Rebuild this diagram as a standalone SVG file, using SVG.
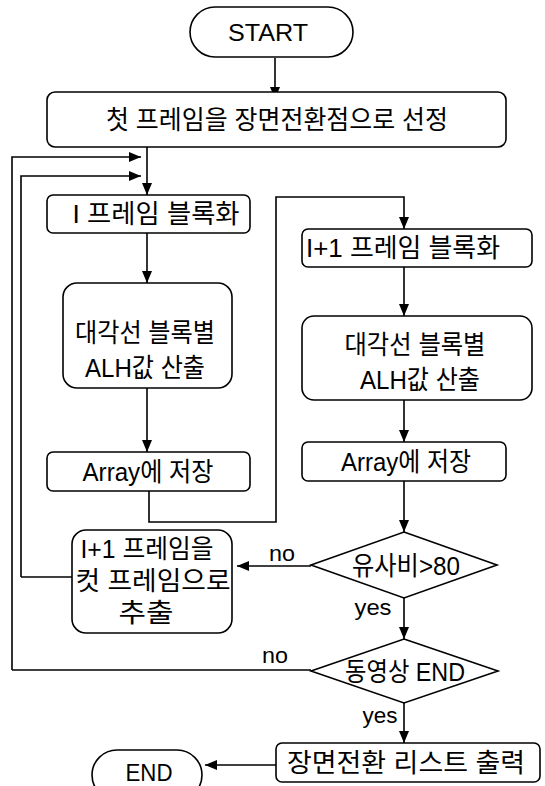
<svg xmlns="http://www.w3.org/2000/svg" width="545" height="786" viewBox="0 0 545 786">
<defs>
<marker id="ah" markerUnits="userSpaceOnUse" markerWidth="12" markerHeight="10" refX="12" refY="5" orient="auto">
<path d="M0,0 L12,5 L0,10 z" fill="#000"/>
</marker>
<style>
.box{fill:#fff;stroke:#000;stroke-width:1.6}
.ln{fill:none;stroke:#000;stroke-width:1.6}
.ar{fill:none;stroke:#000;stroke-width:1.6;marker-end:url(#ah)}
text{font-family:"Liberation Sans","Noto Sans CJK KR",sans-serif;fill:#000;text-anchor:middle;dominant-baseline:central}
.t{font-size:26px}
.e{font-size:24px}
.l{font-size:22px}
</style>
</defs>
<rect width="545" height="786" fill="#fff"/>
<g id="connectors">
<line class="ar" x1="275" y1="58" x2="275" y2="99"/>
<polyline class="ar" points="12,670 12,157 141,157"/>
<polyline class="ar" points="21,577 21,176 141,176"/>
<line class="ar" x1="147" y1="147" x2="147" y2="195"/>
<line class="ar" x1="147" y1="233" x2="147" y2="283"/>
<line class="ar" x1="147" y1="388" x2="147" y2="452"/>
<polyline class="ar" points="149,491 149,522 276,522 276,197 404,197 404,229"/>
<line class="ar" x1="404" y1="267" x2="404" y2="316"/>
<line class="ar" x1="404" y1="400" x2="404" y2="442"/>
<line class="ar" x1="404" y1="481" x2="404" y2="532"/>
<line class="ar" x1="311" y1="566" x2="237" y2="566"/>
<line class="ar" x1="404" y1="598" x2="404" y2="639"/>
<line class="ln" x1="311" y1="670" x2="12" y2="670"/>
<line class="ar" x1="404" y1="703" x2="404" y2="743"/>
<line class="ar" x1="276" y1="765" x2="205" y2="765"/>
<line class="ln" x1="72" y1="577" x2="21" y2="577"/>
<text class="l" x="282" y="553" textLength="26" lengthAdjust="spacingAndGlyphs">no</text>
<text class="l" x="275" y="655" textLength="26" lengthAdjust="spacingAndGlyphs">no</text>
<text class="l" x="373" y="607" textLength="37" lengthAdjust="spacingAndGlyphs">yes</text>
<text class="l" x="380" y="715" textLength="35" lengthAdjust="spacingAndGlyphs">yes</text>
</g>
<g id="start">
<rect class="box" x="190" y="7" width="163" height="50" rx="25"/>
<text class="e" x="268" y="32" textLength="80" lengthAdjust="spacingAndGlyphs">START</text>
</g>
<g id="init">
<rect class="box" x="47" y="92" width="459" height="55" rx="8"/>
<text class="t" x="277" y="120" textLength="342" lengthAdjust="spacingAndGlyphs">첫 프레임을 장면전환점으로 선정</text>
</g>
<g id="blockI">
<rect class="box" x="47" y="195" width="203" height="38" rx="6"/>
<text class="t" x="156" y="214" textLength="167" lengthAdjust="spacingAndGlyphs">I 프레임 블록화</text>
</g>
<g id="alhI">
<rect class="box" x="63" y="283" width="169" height="105" rx="14"/>
<text class="t" x="145" y="333" textLength="140" lengthAdjust="spacingAndGlyphs">대각선 블록별</text>
<text class="t" x="145" y="368" textLength="120" lengthAdjust="spacingAndGlyphs">ALH값 산출</text>
</g>
<g id="arrayI">
<rect class="box" x="47" y="452" width="203" height="39" rx="6"/>
<text class="t" x="148" y="472" textLength="131" lengthAdjust="spacingAndGlyphs">Array에 저장</text>
</g>
<g id="blockI1">
<rect class="box" x="302" y="229" width="230" height="38" rx="6"/>
<text class="t" x="403" y="248" textLength="194" lengthAdjust="spacingAndGlyphs">I+1 프레임 블록화</text>
</g>
<g id="alhI1">
<rect class="box" x="302" y="316" width="230" height="84" rx="12"/>
<text class="t" x="415" y="345" textLength="141" lengthAdjust="spacingAndGlyphs">대각선 블록별</text>
<text class="t" x="420" y="380" textLength="120" lengthAdjust="spacingAndGlyphs">ALH값 산출</text>
</g>
<g id="arrayI1">
<rect class="box" x="302" y="442" width="204" height="39" rx="6"/>
<text class="t" x="406" y="462" textLength="130" lengthAdjust="spacingAndGlyphs">Array에 저장</text>
</g>
<g id="sim">
<polygon class="box" points="404,532 497,565 404,598 311,565"/>
<text class="t" x="406" y="566" textLength="108" lengthAdjust="spacingAndGlyphs">유사비&gt;80</text>
</g>
<g id="cut">
<rect class="box" x="72" y="530" width="160" height="103" rx="14"/>
<text class="t" x="147" y="549" textLength="133" lengthAdjust="spacingAndGlyphs">I+1 프레임을</text>
<text class="t" x="153" y="581" textLength="155" lengthAdjust="spacingAndGlyphs">컷 프레임으로</text>
<text class="t" x="146" y="613" textLength="55" lengthAdjust="spacingAndGlyphs">추출</text>
</g>
<g id="videoEnd">
<polygon class="box" points="404,639 498,671 404,703 311,671"/>
<text class="t" x="405" y="672" textLength="120" lengthAdjust="spacingAndGlyphs">동영상 END</text>
</g>
<g id="list">
<rect class="box" x="276" y="743" width="264" height="39" rx="6"/>
<text class="t" x="406" y="763" textLength="238" lengthAdjust="spacingAndGlyphs">장면전환  리스트 출력</text>
</g>
<g id="end">
<rect class="box" x="92" y="750" width="110" height="50" rx="25"/>
<text class="e" x="149" y="772" textLength="47" lengthAdjust="spacingAndGlyphs">END</text>
</g>
</svg>
